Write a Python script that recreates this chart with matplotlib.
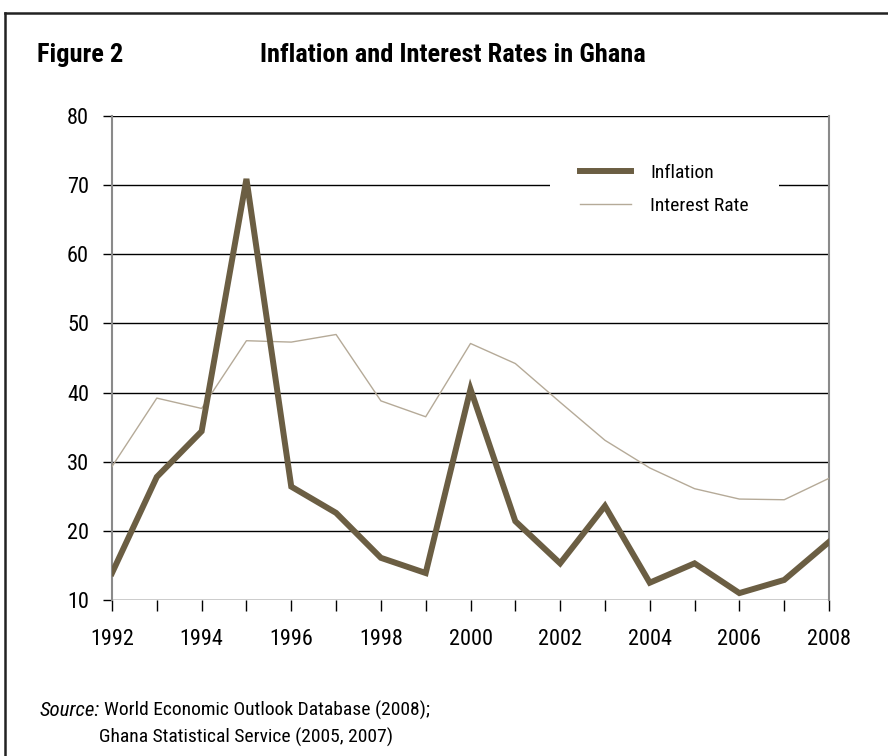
import matplotlib
matplotlib.use("Agg")
import matplotlib.pyplot as plt
from matplotlib.lines import Line2D

plt.rcParams['font.family'] = ['Roboto Condensed', 'Archivo Narrow', 'Liberation Sans', 'DejaVu Sans']

# data
years = list(range(1992, 2009))
inflation = [13.9, 27.8, 34.4, 70.9, 26.4, 22.6, 16.1, 13.9, 40.5,
             21.4, 15.3, 23.6, 12.5, 15.3, 11.0, 12.9, 18.4]
interest = [29.3, 39.2, 37.7, 47.5, 47.3, 48.4, 38.8, 36.5, 47.1,
            44.2, 38.6, 33.1, 29.1, 26.1, 24.6, 24.5, 27.6]
y_ticks = [10, 20, 30, 40, 50, 60, 70, 80]
x_labels = [1992, 1994, 1996, 1998, 2000, 2002, 2004, 2006, 2008]

W, H = 888, 756
fig = plt.figure(figsize=(W / 100, H / 100), dpi=100)
ax = fig.add_axes([112 / W, 1 - 600 / H, (829 - 112) / W, (600 - 116) / H])

dark = '#6b5e43'
light = '#b5aa98'

# horizontal grid lines
for v in y_ticks:
    ax.axhline(v, color='black', lw=1.0, zorder=1)

ax.plot(years, interest, color=light, lw=1.0, zorder=3, label='Interest Rate')
ax.plot(years, inflation, color=dark, lw=4.3, zorder=4, label='Inflation',
        solid_joinstyle='miter')

ax.set_xlim(1992, 2008)
ax.set_ylim(10, 80)
ax.set_yticks(y_ticks)
ax.set_xticks(years)
ax.set_xticklabels([str(y) if y in x_labels else '' for y in years])

ax.tick_params(axis='y', length=6.5, width=1, color='black', pad=10, labelsize=16)
ax.tick_params(axis='x', length=8, width=1, color='black', pad=13, labelsize=16)

for s in ['top', 'bottom']:
    ax.spines[s].set_visible(False)
for s in ['left', 'right']:
    ax.spines[s].set_color('#8a8a8a')
    ax.spines[s].set_linewidth(1.5)

handles, labels = ax.get_legend_handles_labels()
leg = ax.legend(handles[::-1], labels[::-1], loc='upper left',
                bbox_to_anchor=(550 / W, 1 - 134 / H), bbox_transform=fig.transFigure,
                borderaxespad=0, borderpad=1.55, handlelength=2.6, handletextpad=1.0,
                labelspacing=0.76, fontsize=14, frameon=True, fancybox=False)
leg.get_frame().set_facecolor('white')
leg.get_frame().set_edgecolor('none')
leg.get_frame().set_alpha(1)
leg.set_zorder(5)

# headings
fig.text(37 / W, 1 - 55 / H, 'Figure 2', fontsize=19, fontweight='bold', va='center')
fig.text(260 / W, 1 - 55 / H, 'Inflation and Interest Rates in Ghana', fontsize=19,
         fontweight='bold', va='center')

# source note
fig.text(40 / W, 1 - 710 / H, 'Source:', fontsize=15, style='italic', va='center')
fig.text(104 / W, 1 - 710 / H, 'World Economic Outlook Database (2008);', fontsize=14,
         va='center')
fig.text(99 / W, 1 - 737 / H, 'Ghana Statistical Service (2005, 2007)', fontsize=14,
         va='center')

# outer frame
fig.add_artist(Line2D([5 / W, 1], [1 - 13 / H, 1 - 13 / H], color='#222222', lw=1.8,
                      transform=fig.transFigure))
fig.add_artist(Line2D([5 / W, 5 / W], [0, 1 - 13 / H], color='#222222', lw=1.8,
                      transform=fig.transFigure))

fig.savefig('out.png', dpi=100)
